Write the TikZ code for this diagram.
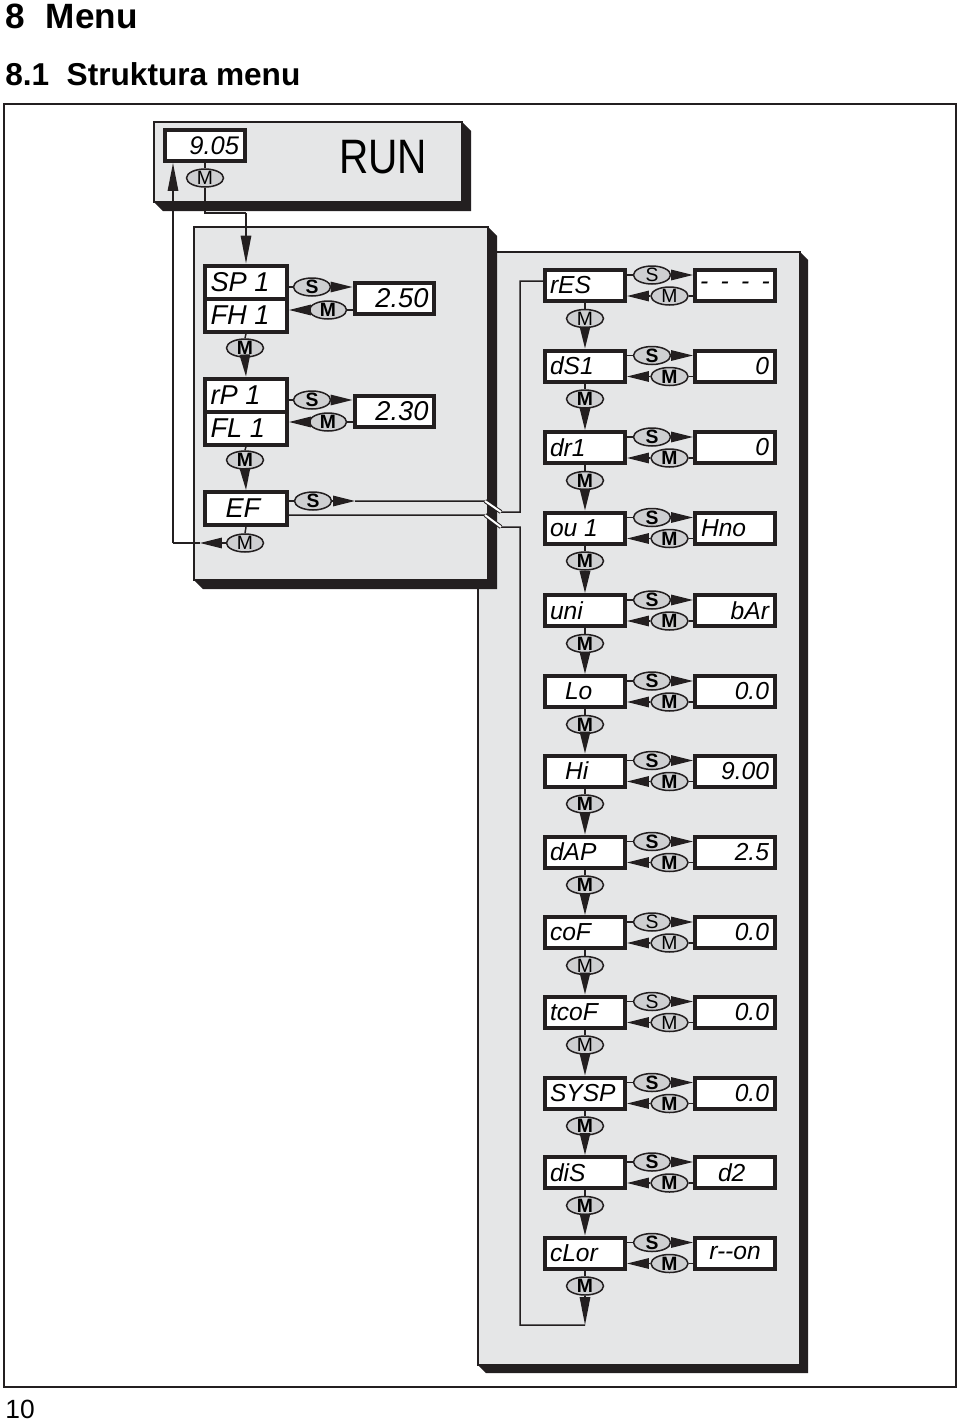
\documentclass[tikz,border=0pt]{standalone}
\usepackage{fontspec}
\setmainfont{Liberation Sans}
\usepackage{tikz}
\usetikzlibrary{shapes.geometric,arrows.meta}

\definecolor{dark}{RGB}{35,31,32}
\definecolor{panelgray}{RGB}{229,230,231}
\definecolor{keygray}{RGB}{206,207,209}

\begin{document}
\begin{tikzpicture}[x=0.02cm, y=-0.02cm,
    >={Triangle[length=0.44cm,width=0.21cm]},
    wire/.style={draw=dark, line width=0.03cm},
    longtip/.style={-{Triangle[length=0.56cm,width=0.21cm]}},
    panel/.style={draw=dark, line width=0.03cm, fill=panelgray},
    lcd/.style={draw=dark, line width=0.08cm, fill=white, inner sep=0pt,
      minimum width=1.6cm, minimum height=0.62cm, font=\itshape\fontsize{14}{14}\selectfont},
    biglcd/.style={lcd, minimum width=1.64cm, minimum height=0.66cm,
      font=\itshape\fontsize{15.5}{15.5}\selectfont},
    key/.style={ellipse, draw=dark, line width=0.03cm, fill=keygray, inner sep=-2pt,
      minimum width=0.74cm, minimum height=0.36cm, text height=7.9pt, text depth=0pt,
      font=\fontsize{11}{11}\selectfont}]

  \useasboundingbox (0,0) rectangle (960,1423);
  \fill[white] (0,0) rectangle (960,1423);

  % headings and frame
  \node[anchor=base west, inner sep=0pt, font=\bfseries\fontsize{20}{20}\selectfont] (h1) at (5,29) {8\hspace{0.6em}Menu};
  \node[anchor=base west, inner sep=0pt, font=\bfseries\fontsize{18}{18}\selectfont] (h2) at (5,85) {8.1\hspace{0.55em}Struktura menu};
  \node[anchor=base west, inner sep=0pt, font=\fontsize{15}{15}\selectfont] (pg) at (5,1418) {10};
  \draw[dark, line width=0.04cm] (4,104) rectangle (956,1387);

  % panels with shadow
  \fill[dark] (800,252) -- (808,260) -- (808,1373) -- (486,1373) -- (478,1365) -- (800,1365) -- cycle;
  \draw[panel] (478,252) rectangle (800,1365);
  \fill[dark] (488,227) -- (497,236) -- (497,589) -- (203,589) -- (194,580) -- (488,580) -- cycle;
  \draw[panel] (194,227) rectangle (488,580);
  \fill[dark] (462,122) -- (471,131) -- (471,211) -- (163,211) -- (154,202) -- (462,202) -- cycle;
  \draw[panel] (154,122) rectangle (462,202);

  % RUN
  \node[lcd, font=\itshape\fontsize{14.5}{14.5}\selectfont] (disp) at (205,145.5) {\makebox[1.36cm][r]{9.05}};
  \node[key] (mrun) at (205,178) {M};
  \node[font=\fontsize{27.5}{27.5}\selectfont] (run) at (383,157.5) {\scalebox{0.84}[1]{RUN}};

  % switch points
  \node[biglcd] (sp) at (246,282) {\makebox[1.42cm][l]{SP 1}};
  \node[biglcd] (fh) at (246,315) {\makebox[1.42cm][l]{FH 1}};
  \node[lcd, font=\itshape\fontsize{15.5}{15.5}\selectfont] (val1) at (394.5,298.5) {\makebox[1.36cm][r]{2.50}};
  \node[key] (sa) at (312,287) {\bfseries S};
  \node[key] (ma) at (328,310) {\bfseries M};
  \node[key] (da) at (245,348) {\bfseries M};
  \node[biglcd] (rp) at (246,395) {\makebox[1.42cm][l]{rP 1}};
  \node[biglcd] (fl) at (246,428) {\makebox[1.42cm][l]{FL 1}};
  \node[lcd, font=\itshape\fontsize{15.5}{15.5}\selectfont] (val2) at (394.5,411) {\makebox[1.36cm][r]{2.30}};
  \node[key] (sb) at (312,400) {\bfseries S};
  \node[key] (mb) at (328,422) {\bfseries M};
  \node[key] (db) at (245,460) {\bfseries M};
  \node[biglcd] (ef) at (246,508.5) {\makebox[1.42cm][l]{\hspace*{0.3cm}EF}};
  \node[key] (se) at (313,501) {\bfseries S};
  \node[key] (de) at (245,543) {M};

  % extended functions
  \foreach \i/\y/\lab/\val/\al/\kw in {
      1/285.5/rES/{-\enspace-\enspace-\enspace-}/c/\mdseries,
      2/366/dS1/0/r/\bfseries,
      3/447.5/dr1/0/r/\bfseries,
      4/528/ou 1/Hno/l/\bfseries,
      5/610.5/uni/bAr/r/\bfseries,
      6/691.5/{\hspace*{0.3cm}Lo}/0.0/r/\bfseries,
      7/771/{\hspace*{0.3cm}Hi}/9.00/r/\bfseries,
      8/852/dAP/2.5/r/\bfseries,
      9/932.5/coF/0.0/r/\mdseries,
      10/1012/tcoF/0.0/r/\mdseries,
      11/1093/SYSP/0.0/r/\bfseries,
      12/1172.5/diS/{\hspace*{0.34cm}d2}/l/\bfseries,
      13/1253/cLor/r-{}-on/c/\bfseries}{
    \node[lcd] (n\i) at (585,\y) {\makebox[1.4cm][l]{\lab}};
    \node[lcd] (v\i) at (735,\y) {\makebox[1.36cm][\al]{\val}};
    \node[key] (s\i) at (652,\y-10.5) {\kw S};
    \node[key] (m\i) at (669.5,\y+10.5) {\kw M};
    \node[key] (d\i) at (585,\y+33) {\kw M};
    \draw[wire] (s\i.west -| n\i.east) -- (s\i.west);
    \draw[wire, ->] (s\i.east) -- (s\i.east -| v\i.west);
    \draw[wire] (m\i.east -| v\i.west) -- (m\i.east);
    \draw[wire, ->] (m\i.west) -- (m\i.west -| n\i.east);
    \draw[wire] (n\i.south) -- (d\i.north);
    \ifnum\i>1
      \pgfmathtruncatemacro\prev{\i-1}
      \draw[wire, ->] (d\prev.south) -- (n\i.north);
    \fi
  }

  % connections
  \coordinate (r1) at (205,213);
  \coordinate (r2) at (sp.north |- r1);
  \draw[wire] (disp.south) -- (mrun.north);
  \draw[wire] (mrun.south) -- (r1) -- (r2);
  \draw[wire, longtip] (r2) -- (sp.north);

  \draw[wire] (sa.west -| sp.east) -- (sa.west);
  \draw[wire, ->] (sa.east) -- (sa.east -| val1.west);
  \draw[wire] (ma.east -| val1.west) -- (ma.east);
  \draw[wire, ->] (ma.west) -- (ma.west -| fh.east);
  \draw[wire] (fh.south) -- (da.north);
  \draw[wire, ->] (da.south) -- (rp.north);
  \draw[wire] (sb.west -| rp.east) -- (sb.west);
  \draw[wire, ->] (sb.east) -- (sb.east -| val2.west);
  \draw[wire] (mb.east -| val2.west) -- (mb.east);
  \draw[wire, ->] (mb.west) -- (mb.west -| fl.east);
  \draw[wire] (fl.south) -- (db.north);
  \draw[wire, ->] (db.south) -- (ef.north);

  % EF -> rES and back
  \coordinate (w0) at (355,501);
  \coordinate (w1) at (485,501);
  \coordinate (w2) at (501,512);
  \coordinate (w3) at (520,512);
  \coordinate (w4) at (520,281);
  \draw[wire] (se.west -| ef.east) -- (se.west);
  \draw[wire, ->] (se.east) -- (w0);
  \draw[wire] (w0) -- (w1) -- (w2) -- (w3) -- (w4) -- (w4 -| n1.west);

  \coordinate (l1) at (485,515);
  \coordinate (l2) at (501,527);
  \coordinate (l3) at (520,527);
  \coordinate (l4) at (520,1325);
  \coordinate (l5) at (d13 |- l4);
  \draw[wire, longtip] (d13.south) -- (l5);
  \draw[wire] (l5) -- (l4) -- (l3) -- (l2) -- (l1) -- (l1 -| ef.east);
  \draw[dark, line width=0.02cm, double=white, double distance=0.04cm] (w1) -- (w2);
  \draw[dark, line width=0.02cm, double=white, double distance=0.04cm] (l1) -- (l2);

  % back to RUN
  \coordinate (ltip) at (200,543);
  \coordinate (c1) at (173,543);
  \draw[wire] (ef.south) -- (de.north);
  \draw[wire, ->] (de.west) -- (ltip);
  \draw[wire] (ltip) -- (c1);
  \draw[wire, longtip] (c1) -- (c1 |- disp.south);
\end{tikzpicture}
\end{document}
